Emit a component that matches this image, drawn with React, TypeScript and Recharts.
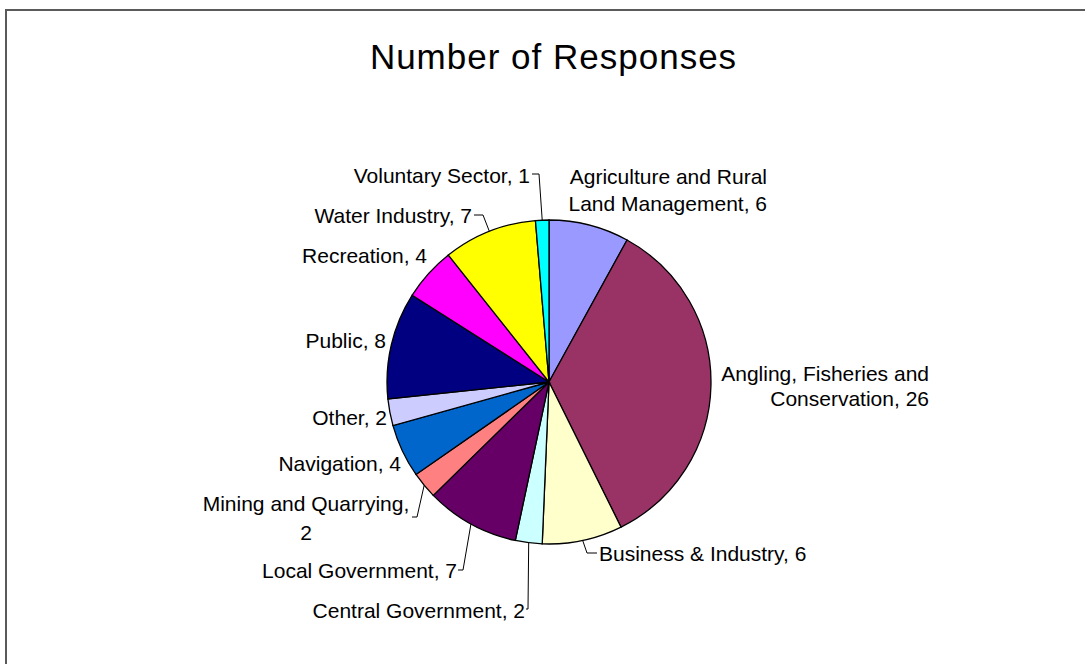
import React from "react";
import { PieChart, Pie, Cell } from "recharts";

const sectors = [
  "Agriculture and Rural Land Management",
  "Angling, Fisheries and Conservation",
  "Business & Industry",
  "Central Government",
  "Local Government",
  "Mining and Quarrying",
  "Navigation",
  "Other",
  "Public",
  "Recreation",
  "Water Industry",
  "Voluntary Sector",
];

const responses = [6, 26, 6, 2, 7, 2, 4, 2, 8, 4, 7, 1];

const sliceColors = [
  "#9999FF",
  "#993366",
  "#FFFFCC",
  "#CCFFFF",
  "#660066",
  "#FF8080",
  "#0066CC",
  "#CCCCFF",
  "#000080",
  "#FF00FF",
  "#FFFF00",
  "#00FFFF",
];

const chartTitle = "Number of Responses";

const FONT = "'Liberation Sans', Arial, Helvetica, sans-serif";
const RAD = Math.PI / 180;

// label placement, relative to the pie centre (Excel "best fit" style)
// dx/dy = anchor of the first line, split = words on first line,
// leader = bend point and end of the leader line, relative to centre
interface LabelSpot {
  dx: number;
  dy: number;
  anchor: "start" | "middle" | "end";
  split?: number;
  lh?: number;
  leader?: { x: number; y: number; end: number };
}

const labelSpots: LabelSpot[] = [
  { dx: 218, dy: -206, anchor: "end", split: 3, lh: 27 },
  { dx: 380, dy: -9, anchor: "end", split: 3, lh: 25 },
  { dx: 50, dy: 171, anchor: "start", leader: { x: 38, y: 171, end: 48 } },
  { dx: -24, dy: 228, anchor: "end", leader: { x: -21, y: 227, end: -23 } },
  { dx: -92, dy: 188, anchor: "end", leader: { x: -86, y: 188, end: -91 } },
  { dx: -243, dy: 121, anchor: "middle", split: 3, lh: 29, leader: { x: -132, y: 135, end: -137 } },
  { dx: -148, dy: 81, anchor: "end" },
  { dx: -162, dy: 35, anchor: "end" },
  { dx: -163, dy: -42, anchor: "end" },
  { dx: -122, dy: -127, anchor: "end" },
  { dx: -77, dy: -167, anchor: "end", leader: { x: -66, y: -167, end: -75 } },
  { dx: -19, dy: -207, anchor: "end", leader: { x: -10, y: -208, end: -17 } },
];

const data = sectors.map((name, i) => ({
  name,
  value: responses[i],
}));

const renderLabel = (props: any) => {
  const { cx, cy, midAngle, outerRadius, index, name, value } = props;
  const spot = labelSpots[index];
  if (!spot) return null;
  const words = `${name}, ${value}`.split(" ");
  const lines = spot.split
    ? [words.slice(0, spot.split).join(" "), words.slice(spot.split).join(" ")]
    : [words.join(" ")];
  const lh = spot.lh ?? 26;
  const tx = cx + spot.dx;
  const ty = cy + spot.dy;
  let leader = null;
  if (spot.leader) {
    const ex = cx + outerRadius * Math.cos(-midAngle * RAD);
    const ey = cy + outerRadius * Math.sin(-midAngle * RAD);
    const bx = cx + spot.leader.x;
    const by = cy + spot.leader.y;
    const endX = cx + spot.leader.end;
    leader = (
      <polyline
        points={`${ex},${ey} ${bx},${by} ${endX},${by}`}
        fill="none"
        stroke="#000"
        strokeWidth={1}
      />
    );
  }
  return (
    <g key={`lbl-${index}`}>
      {leader}
      {lines.map((line, li) => (
        <text
          key={li}
          x={tx}
          y={ty + li * lh}
          textAnchor={spot.anchor}
          dominantBaseline="central"
          fontFamily={FONT}
          fontSize={21}
          fill="#000"
        >
          {line}
        </text>
      ))}
    </g>
  );
};

export default function App() {
  return (
    <div
      style={{
        position: "absolute",
        left: 0,
        top: 0,
        width: 1085,
        height: 664,
        overflow: "hidden",
        background: "#fff",
      }}
    >
      <div
        style={{
          position: "absolute",
          left: 5,
          top: 9,
          width: 1200,
          height: 800,
          border: "2px solid #5a5a5a",
        }}
      />
      <div
        style={{
          position: "absolute",
          left: 0,
          width: 1107,
          top: 39,
          textAlign: "center",
          fontFamily: FONT,
          fontSize: 35,
          lineHeight: "36px",
          letterSpacing: 1,
          color: "#000",
        }}
      >
        {chartTitle}
      </div>
      <div style={{ position: "absolute", left: 0, top: 0 }}>
        <PieChart
          width={1085}
          height={664}
          margin={{ top: 0, right: 0, bottom: 0, left: 0 }}
        >
          <Pie
            data={data}
            dataKey="value"
            nameKey="name"
            cx={549}
            cy={382}
            outerRadius={162}
            startAngle={90}
            endAngle={-270}
            stroke="#000"
            strokeWidth={1.3}
            label={renderLabel}
            labelLine={false}
            isAnimationActive={false}
          >
            {data.map((d, i) => (
              <Cell key={d.name} fill={sliceColors[i]} />
            ))}
          </Pie>
        </PieChart>
      </div>
    </div>
  );
}
